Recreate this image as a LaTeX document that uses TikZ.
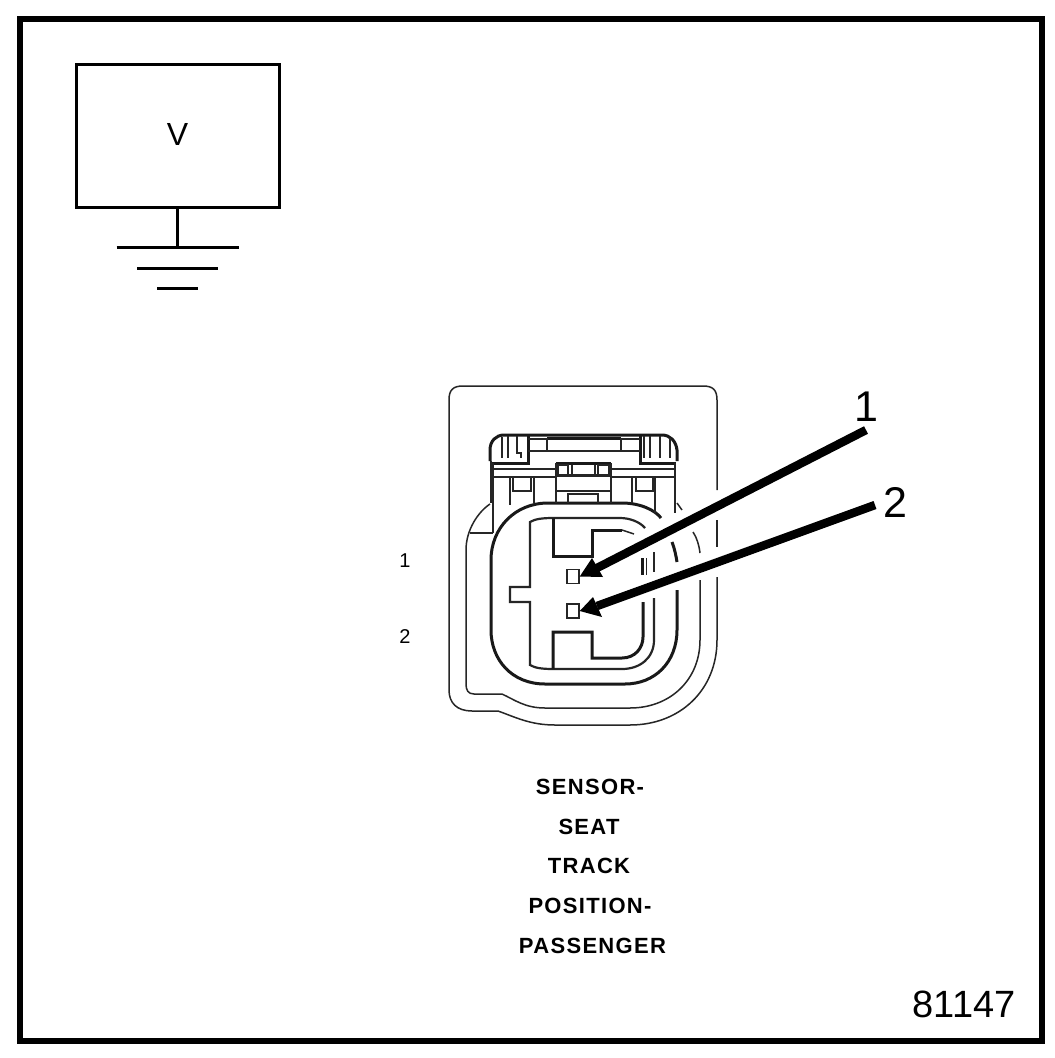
\documentclass[tikz,border=0pt]{standalone}
\usepackage{fontspec}
\setmainfont{Liberation Sans}
\begin{document}
\begin{tikzpicture}[x=1pt,y=-1pt,
  thinl/.style={line width=1.5pt,black!85},
  medl/.style={line width=2.2pt,black!85},
  thickl/.style={line width=3pt,black!90},
  pinbox/.style={draw=black!85,line width=1.5pt,fill=white,minimum width=12pt,minimum height=14pt,inner sep=0pt},
  pointer/.style={line width=8.5pt,black},
  head/.style={fill=black,draw=none},
  captxt/.style={font=\bfseries\fontsize{22}{22}\selectfont\addfontfeature{LetterSpace=6},inner sep=0pt,anchor=base},
  pinlbl/.style={font=\fontsize{20}{20}\selectfont,inner sep=0pt},
  biglbl/.style={font=\fontsize{43}{43}\selectfont,inner sep=0pt}]
\useasboundingbox (0,0) rectangle (1055,1058);
\fill[white] (0,0) rectangle (1055,1058);
\draw[line width=6pt] (19.7,18.7) rectangle (1041.7,1041);
% meter
\node[draw,line width=3pt,minimum width=203pt,minimum height=143pt,inner sep=0pt] (meter) at (177.5,136) {};
\node[font=\fontsize{32}{32}\selectfont,inner sep=0pt] (vlab) at (177.5,134) {V};
\coordinate (gnd) at (177.5,247.7);
\draw[line width=3pt] (meter.south) -- (gnd);
\draw[line width=3pt] (116.7,247.7) -- (239,247.7);
\draw[line width=3pt] (137,268) -- (218,268);
\draw[line width=3pt] (157,288.7) -- (198,288.7);
% connector outer shell
\draw[thinl] (449,400) .. controls (449,390) and (453,386) .. (463,386) -- (703,386) .. controls (713,386) and (717,390) .. (717,400) -- (717,490);
\draw[thinl] (717,520) -- (717,547);
\draw[thinl] (717,577) -- (717,640) .. controls (717,690) and (680,725) .. (630,725) -- (555,725) .. controls (530,725) and (515,717) .. (498,711) -- (472,711) .. controls (457,711) and (449,703) .. (449,690) -- (449,400);
% second contour
\draw[thinl] (700,580) -- (700,640) .. controls (700,680) and (670,708) .. (630,708) -- (545,708) .. controls (525,708) and (515,700) .. (502,694) -- (474,694) .. controls (468,694) and (466,690) .. (466,684) -- (466,550) .. controls (466,530) and (478,512) .. (490,504);
\draw[thinl] (470,533) -- (493,533);
\draw[thinl] (693,532) .. controls (697,538) and (699,545) .. (700,553);
\draw[thinl] (682,510) -- (677,503);
% main body
\draw[thickl] (677,590) -- (677,630) .. controls (677,662) and (655,684) .. (625,684) -- (545,684) .. controls (512,684) and (491,660) .. (491,630) -- (491,560) .. controls (491,528) and (515,503) .. (548,503) -- (622,503) .. controls (640,503) and (655,510) .. (661,518);
\draw[thickl] (672,542) .. controls (675,550) and (676,556) .. (677,562);
% inner contour
\draw[medl] (654,598) -- (654,640) .. controls (654,658) and (640,669) .. (622,669) -- (553,669) .. controls (542,669) and (535,668) .. (530,665) -- (530,602) -- (510,602) -- (510,587) -- (530,587) -- (530,522) .. controls (535,519) and (542,518) .. (553,518) -- (620,518) .. controls (630,518) and (640,522) .. (645,528);
\draw[thinl] (654,552) -- (654,572);
% inner blocks
\draw[thickl] (553,518) -- (553,556) -- (592,556) -- (592,530) -- (622,530);
\draw[thinl] (622,530) -- (634,534);
\draw[thickl] (553,669) -- (553,632) -- (592,632) -- (592,658) -- (622,658) .. controls (635,658) and (643,648) .. (643,637) -- (643,602);
\draw[thickl] (642.5,558) -- (642.5,575);
\draw[thinl] (646.5,558) -- (646.5,575);
% latch
\draw[thickl] (490,461) -- (490,450) .. controls (490,441) and (496,435) .. (504,435) -- (662,435) .. controls (670,435) and (676,441) .. (677,450) -- (677,461);
\draw[thickl] (492,463) -- (528,463) -- (528,436);
\draw[thickl] (640,436) -- (640,463) -- (676,463);
\draw[medl] (493,469) -- (556,469); \draw[medl] (611,469) -- (675,469);
\draw[medl] (493,477) -- (556,477); \draw[medl] (611,477) -- (675,477);
\draw[thinl] (493,463) -- (493,533);
\draw[thinl] (675,463) -- (675,513);
\draw[thinl] (491,461) -- (491,503);
\draw[thinl] (502,437) -- (502,458); \draw[thinl] (508,436) -- (508,458); \draw[thinl] (517,436) -- (517,453) -- (521,453) -- (521,458);
\draw[thinl] (650,436) -- (650,458); \draw[thinl] (660,436) -- (660,458); \draw[thinl] (670,438) -- (670,458);
\draw[thinl] (644,436) -- (644,458);
\draw[thinl] (528,439) -- (547,439);
\draw[thinl] (621,439) -- (640,439);
\draw[thickl] (547,438) -- (621,438);
\draw[medl] (528,451) -- (640,451);
\draw[medl] (547,438) -- (547,451); \draw[medl] (621,451) -- (621,438);
\draw[thickl] (556,463) -- (611,463);
\draw[medl] (556,463) -- (556,503); \draw[medl] (611,463) -- (611,503);
\draw[medl] (556,475.5) -- (611,475.5);
\draw[medl] (556,491) -- (611,491);
\draw[medl] (558,465) rectangle (568,475);
\draw[medl] (598,465) rectangle (609,475);
\draw[thinl] (572,465) -- (572,476); \draw[thinl] (595,465) -- (595,476);
\draw[medl] (568,503) -- (568,494) -- (598,494) -- (598,503);
\draw[thinl] (510,478) -- (510,505);
\draw[thinl] (534,478) -- (534,503);
\draw[thinl] (632,478) -- (632,503);
\draw[thinl] (655,478) -- (655,513);
\draw[thinl] (513,478) -- (513,491) -- (531,491) -- (531,478);
\draw[thinl] (636,478) -- (636,491) -- (653,491) -- (653,478);
% pins
\node[pinbox] (pinA) at (573,576.5) {};
\node[pinbox] (pinB) at (573,611) {};
% pointers
\node[biglbl] (lblA) at (866,407) {1};
\node[biglbl] (lblB) at (895,502) {2};
\coordinate (tailA) at (866,430);
\coordinate (tailB) at (875,505);
\coordinate (neckA) at (597,568);
\coordinate (neckB) at (597,606);
\draw[pointer] (tailA) -- (neckA);
\draw[pointer] (tailB) -- (neckB);
\fill[head] (pinA.east) -- (592,558) -- (603,577) -- cycle;
\fill[head] (pinB.east) -- (593,597) -- (602,617) -- cycle;
% labels
\node[pinlbl] (pa) at (405,561) {1};
\node[pinlbl] (pb) at (405,637) {2};
\node[captxt] (c1) at (590,794) {SENSOR-};
\node[captxt] (c2) at (589,834) {SEAT};
\node[captxt] (c3) at (589,873) {TRACK};
\node[captxt] (c4) at (590,913) {POSITION-};
\node[captxt] (c5) at (592.5,953) {PASSENGER};
\node[font=\fontsize{38}{38}\selectfont,inner sep=0pt] (code) at (964,1004.7) {81147};
\end{tikzpicture}
\end{document}
